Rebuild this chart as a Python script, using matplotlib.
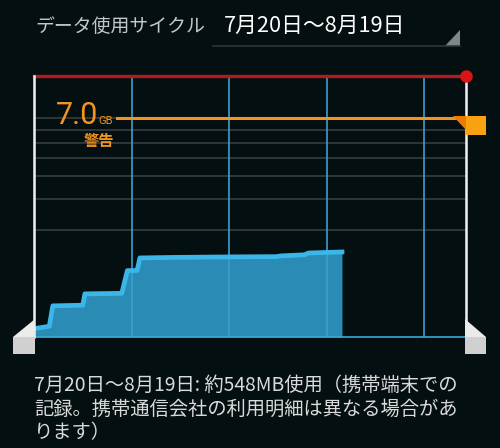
import numpy as np
import matplotlib
matplotlib.use("Agg")
import matplotlib.pyplot as plt
from matplotlib.patches import Polygon
from matplotlib.transforms import ScaledTranslation
from matplotlib.lines import Line2D

plt.rcParams['font.family'] = ['Noto Sans CJK JP', 'DejaVu Sans']

# ---- data ----
cycle_title = "データ使用サイクル"
cycle_range = "7月20日～8月19日"
cycle_days = 31
week_ticks = [7, 14, 21, 28]
usage_days = [0.0, 1.1, 1.35, 3.5, 3.65, 6.3, 6.7, 7.4, 7.6, 10.0, 14.0, 17.4, 17.7, 19.4, 19.7, 22.1]
usage_mb = [1, 2, 36, 38, 87, 90, 280, 282, 450, 458, 466, 470, 482, 500, 530, 548]
grid_gb = [1, 2, 3, 4, 5, 6, 7]
warning_gb = 7.0
limit_gb = 11.2
footer_lines = ["7月20日～8月19日: 約548MB使用（携帯端末での",
                "記録。携帯通信会社の利用明細は異なる場合があ",
                "ります）"]

W, H = 500, 448
BG = '#040f11'
ORANGE = '#f29420'

def fpx(x, y):
    # pixel position (from top-left) -> figure fraction
    return x / W, 1 - y / H

fig = plt.figure(figsize=(W / 100, H / 100), dpi=100, facecolor=BG)
ax = fig.add_axes([34 / W, 111 / H, 432 / W, 261 / H], facecolor=BG)

# android data usage axis: power curve so small values stay visible
expo = 0.3688
ax.set_yscale('function', functions=(lambda v: np.power(np.clip(v, 0, None), expo),
                                     lambda v: np.power(np.clip(v, 0, None), 1 / expo)))
ax.set_ylim(0, limit_gb)
ax.set_xlim(0, cycle_days)

usage_gb = np.array(usage_mb) / 1024.0

for g in grid_gb:
    ax.axhline(g, color='#34393a', lw=1.3, zorder=1)
for d in week_ticks:
    ax.axvline(d, color='#3c9fd2', lw=1.2, zorder=3)

ax.fill_between(usage_days, 0, usage_gb, color='#2a8cb4', lw=0, zorder=2)
ax.plot(usage_days, usage_gb, color='#3bb6e8', lw=3.4, solid_joinstyle='round', zorder=4)
ax.axhline(0, color='#3aa8d8', lw=1.2, zorder=4, clip_on=False)

# warning line and label
ax.axhline(warning_gb, xmin=0.192, color=ORANGE, lw=2.2, zorder=5)
ax.annotate("7.0", xy=(0, warning_gb), xytext=(22, -6), textcoords='offset pixels',
            ha='left', va='baseline', color=ORANGE, fontsize=22, family=['Roboto', 'DejaVu Sans'])
ax.annotate("GB", xy=(0, warning_gb), xytext=(64, -6), textcoords='offset pixels',
            ha='left', va='baseline', color=ORANGE, fontsize=8, family=['Roboto', 'DejaVu Sans'])
ax.annotate("警告", xy=(0, warning_gb), xytext=(80, -23), textcoords='offset pixels',
            ha='right', va='center', color=ORANGE, fontsize=11, fontweight='bold')

# limit line
ax.axhline(limit_gb, color='#b41c1c', lw=2.4, zorder=6, clip_on=False)

# sweep lines
for d in (0, cycle_days):
    ax.axvline(d, color='#f2f2f2', lw=1.8, zorder=6, clip_on=False)
ax.plot([cycle_days], [limit_gb], 'o', ms=8, color='#d81414', zorder=7, clip_on=False)

def handle(x, y, verts, color):
    t = ScaledTranslation(x, y, ax.transData)
    ax.add_patch(Polygon(verts, closed=True, transform=t, facecolor=color,
                         edgecolor='none', zorder=8, clip_on=False))

# warning handle
handle(cycle_days, warning_gb, [(-13, 1.5), (0, 1.5), (0, -12)], '#ee7a00')
handle(cycle_days, warning_gb, [(0, 1.5), (20, 1.5), (20, -17), (0, -17)], '#f8a212')
# bottom sweep handles
handle(0, 0, [(1, 18), (-21, 0), (1, 0)], '#ebebeb')
handle(0, 0, [(-21, 0), (1, 0), (1, -17), (-21, -17)], '#d0d0d0')
handle(cycle_days, 0, [(-1, 18), (20, 0), (-1, 0)], '#ebebeb')
handle(cycle_days, 0, [(-1, 0), (20, 0), (20, -17), (-1, -17)], '#d0d0d0')

ax.set_xticks([])
ax.set_yticks([])
for s in ax.spines.values():
    s.set_visible(False)

# header
fig.text(*fpx(35, 27), cycle_title, color='#c4c8c8', fontsize=13.6, va='center', ha='left')
fig.text(*fpx(224, 26), cycle_range, color='white', fontsize=15.7, va='center', ha='left')
fig.add_artist(Line2D([213 / W, 460 / W], [1 - 46 / H] * 2, color='#2c3739', lw=1.2,
                      transform=fig.transFigure))
fig.add_artist(Polygon([fpx(445, 46), fpx(460, 46), fpx(460, 30)], closed=True,
                       facecolor='#7d8888', edgecolor='none', transform=fig.transFigure))

# footer
for i, line in enumerate(footer_lines):
    fig.text(*fpx(34, 385 + 24 * i), line, color='#dadada', fontsize=13.9, va='center', ha='left')

fig.savefig('out.png', dpi=100, facecolor=BG)
